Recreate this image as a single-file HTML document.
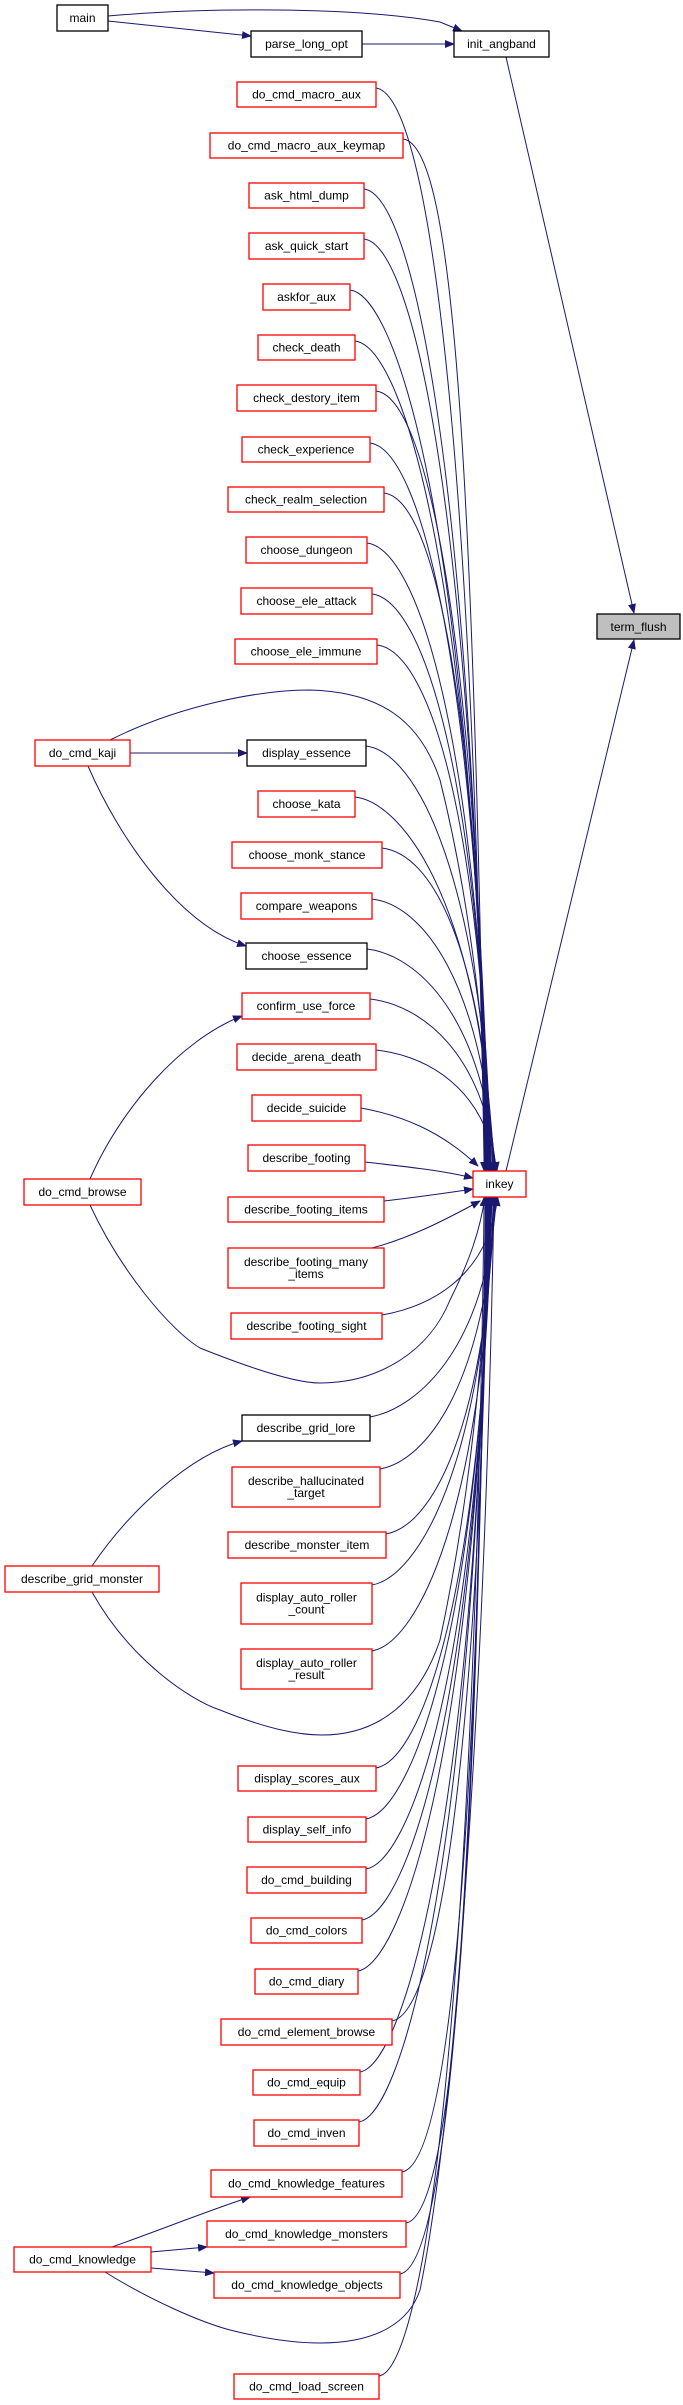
<!DOCTYPE html>
<html><head><meta charset="utf-8"><style>
html,body{margin:0;padding:0;background:#fff;}
svg{display:block;}
text{font-family:"Liberation Sans",Arial,sans-serif;font-size:12px;fill:#000;}
</style></head><body>
<svg id="g" width="683" height="2405" viewBox="0 0 683 2405" xmlns="http://www.w3.org/2000/svg">
<defs><marker id="a" markerWidth="10" markerHeight="8" refX="9" refY="4" orient="auto" markerUnits="userSpaceOnUse"><path d="M0,0 L10,4 L0,8 z" fill="#191970"/></marker></defs>
<g id="edges" fill="none" stroke="#191970" stroke-width="1"></g>
<g id="nodes" stroke-width="1.3">
<rect x="57" y="5" width="51" height="26" fill="#fff" stroke="#000"/><text x="82.5" y="22" text-anchor="middle">main</text>
<rect x="251" y="31" width="111" height="26" fill="#fff" stroke="#000"/><text x="306.5" y="48" text-anchor="middle">parse_long_opt</text>
<rect x="454" y="31" width="95" height="26" fill="#fff" stroke="#000"/><text x="501.5" y="48" text-anchor="middle">init_angband</text>
<rect x="597" y="614" width="83" height="25" fill="#bfbfbf" stroke="#000"/><text x="638.5" y="631" text-anchor="middle">term_flush</text>
<rect x="473" y="1171" width="53" height="26" fill="#fff" stroke="#f00"/><text x="499.5" y="1188" text-anchor="middle">inkey</text>
</g>
<g id="n2" stroke-width="1.3"></g>
</svg>
<script>
var N=[
["do_cmd_macro_aux",237,376,82,107,"r"],
["do_cmd_macro_aux_keymap",210,403,133,158,"r"],
["ask_html_dump",249,364,183,208,"r"],
["ask_quick_start",249,364,233,259,"r"],
["askfor_aux",263,350,284,310,"r"],
["check_death",258,355,335,360,"r"],
["check_destory_item",237,376,385,411,"r"],
["check_experience",242,370,437,462,"r"],
["check_realm_selection",228,384,487,512,"r"],
["choose_dungeon",246,367,537,563,"r"],
["choose_ele_attack",241,372,588,614,"r"],
["choose_ele_immune",235,377,639,664,"r"],
["do_cmd_kaji",35,130,740,766,"r"],
["display_essence",247,366,740,766,"k"],
["choose_kata",258,355,791,817,"r"],
["choose_monk_stance",232,382,842,868,"r"],
["compare_weapons",241,372,893,919,"r"],
["choose_essence",246,367,943,969,"k"],
["confirm_use_force",242,370,993,1019,"r"],
["decide_arena_death",237,376,1044,1070,"r"],
["decide_suicide",252,361,1095,1121,"r"],
["describe_footing",248,365,1145,1171,"r"],
["describe_footing_items",228,384,1197,1222,"r"],
["describe_footing_many|_items",228,384,1248,1288,"r"],
["describe_footing_sight",231,382,1313,1339,"r"],
["do_cmd_browse",24,141,1179,1205,"r"],
["describe_grid_lore",242,370,1415,1441,"k"],
["describe_hallucinated|_target",232,380,1467,1507,"r"],
["describe_monster_item",228,386,1532,1558,"r"],
["describe_grid_monster",5,159,1566,1592,"r"],
["display_auto_roller|_count",241,372,1583,1624,"r"],
["display_auto_roller|_result",241,372,1649,1689,"r"],
["display_scores_aux",238,376,1766,1791,"r"],
["display_self_info",248,366,1817,1842,"r"],
["do_cmd_building",247,366,1867,1893,"r"],
["do_cmd_colors",251,362,1918,1943,"r"],
["do_cmd_diary",255,358,1969,1994,"r"],
["do_cmd_element_browse",221,392,2019,2045,"r"],
["do_cmd_equip",253,360,2070,2095,"r"],
["do_cmd_inven",254,359,2120,2146,"r"],
["do_cmd_knowledge_features",211,402,2170,2197,"r"],
["do_cmd_knowledge_monsters",207,406,2221,2247,"r"],
["do_cmd_knowledge_objects",214,400,2272,2298,"r"],
["do_cmd_knowledge",14,151,2247,2272,"r"],
["do_cmd_load_screen",234,379,2374,2399,"r"]
];
var ns="http://www.w3.org/2000/svg",E=document.getElementById("edges"),G=document.getElementById("n2");
function P(d,arrow){var p=document.createElementNS(ns,"path");p.setAttribute("d",d);if(arrow!==false)p.setAttribute("marker-end","url(#a)");E.appendChild(p);}
var skip={"do_cmd_kaji":1,"do_cmd_browse":1,"describe_grid_monster":1,"do_cmd_knowledge":1};
var iT=1171,iB=1197;
var cnt=0;
N.forEach(function(n){
 var nm=n[0],x1=n[1],x2=n[2],y1=n[3],y2=n[4];
 var r=document.createElementNS(ns,"rect");r.setAttribute("x",x1);r.setAttribute("y",y1);r.setAttribute("width",x2-x1);r.setAttribute("height",y2-y1);r.setAttribute("fill","#fff");r.setAttribute("stroke",n[5]=="r"?"#f00":"#000");G.appendChild(r);
 var L=nm.split("|"),cx=(x1+x2)/2,cy=(y1+y2)/2;
 L.forEach(function(s,i){var t=document.createElementNS(ns,"text");t.setAttribute("x",cx);t.setAttribute("y",cy+4+(i-(L.length-1)/2)*12);t.setAttribute("text-anchor","middle");t.textContent=s;G.appendChild(t);});
 if(skip[nm])return;
 var sx=x2,sy,ex,ey,d;
 if(nm=="decide_suicide"){P("M361,1108 C400,1115 440,1130 478,1166");return;}
 if(nm=="describe_footing"){P("M365,1162 C400,1166 440,1170 473,1178");return;}
 if(nm=="describe_footing_items"){P("M384,1201 C410,1198 440,1194 473,1189");return;}
 if(nm=="describe_footing_many|_items"){P("M372,1248 C410,1238 445,1220 480,1201");return;}
 if(cy<1171){sy=y1+6;ey=iT;ex=484+Math.min(14,(cy-80)/1060*14);
  d="M"+sx+","+sy+" C"+(sx+50)+","+(sy+6)+" "+(ex-12)+","+(sy+(ey-sy)*0.3)+" "+ex+","+ey;}
 else{sy=y1+2;ey=iB;ex=498-Math.min(14,(cy-1300)/1100*14);
  d="M"+sx+","+sy+" C"+(sx+45)+","+(sy-8)+" "+(ex-10)+","+(sy-(sy-ey)*0.3)+" "+ex+","+ey;}
 P(d);
});
P("M108,16 C200,8 350,6 440,22 L462,31");
P("M108,21 L251,36");
P("M362,44 L454,44");
P("M506,57 L634,613");
P("M506,1171 L634,640");
P("M110,740 C180,705 260,690 310,690 C380,692 420,720 440,780 C470,900 488,1050 490,"+iT);
P("M130,753 L247,753");
P("M88,766 C120,840 180,925 246,946");
P("M90,1179 C120,1110 180,1040 242,1016");
P("M90,1205 C120,1270 170,1330 200,1348 C260,1372 300,1383 320,1383 C380,1383 430,1350 450,1300 C470,1260 480,1230 485,"+iB);
P("M92,1566 C130,1510 190,1455 242,1441");
P("M92,1592 C130,1660 190,1700 220,1710 C270,1730 300,1735 322,1735 C380,1735 420,1700 440,1640 C470,1500 485,1350 490,"+iB);
P("M112,2247 C160,2230 210,2210 250,2197");
P("M151,2252 L207,2247");
P("M151,2268 L214,2273");
P("M105,2272 C150,2300 200,2322 230,2330 C270,2340 300,2343 320,2343 C380,2343 410,2320 420,2290 C455,2120 485,1700 494,"+iB);
</script>
</body></html>
